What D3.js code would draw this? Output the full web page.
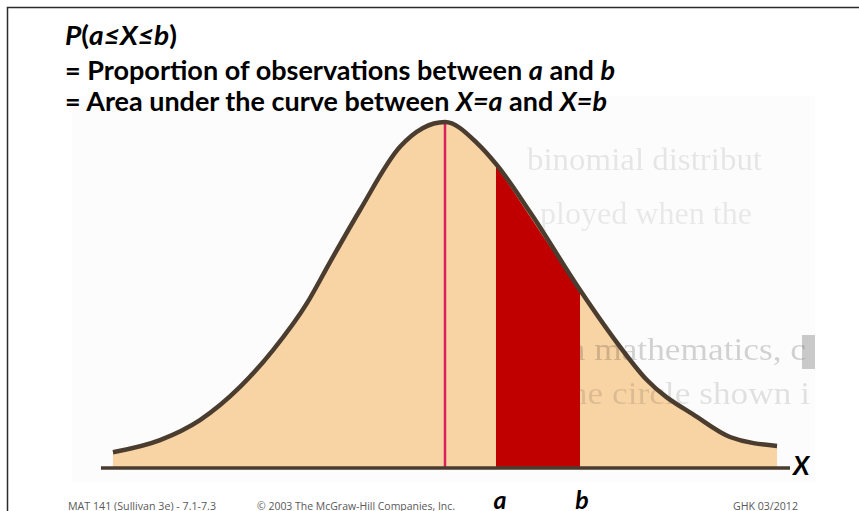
<!DOCTYPE html>
<html>
<head>
<meta charset="utf-8">
<script src="https://cdn.jsdelivr.net/npm/d3@7/dist/d3.min.js"></script>
<style>
  html, body { margin: 0; padding: 0; background: #ffffff; }
  svg { display: block; }
</style>
</head>
<body>
<svg id="chart" width="859" height="511"></svg>
<script>
// Density curve, sampled in standard units (mean = 0) with relative height (peak = 1)
const curveX = [-2.767, -2.375, -2.042, -1.708, -1.433, -1.15, -0.958, -0.708, -0.375, 0,
                0.267, 0.433, 0.708, 1.125, 1.417, 1.683, 2.1, 2.375, 2.767];
const curveY = [0.043, 0.078, 0.136, 0.232, 0.339, 0.475, 0.594, 0.745, 0.928, 1.0,
                0.939, 0.875, 0.739, 0.513, 0.368, 0.252, 0.145, 0.087, 0.061];

// Interval [a, b] and the heights of the shaded region at its edges
const intervalX = [0.425, 1.125];
const intervalTop = [0.875, 0.507];
const intervalLabels = ["a", "b"];
const meanX = 0;
const axisExtent = [-2.867, 2.875];
const axisLabel = "X";

const titleLines = [
  [{t: "P", i: true}, {t: "(", i: false}, {t: "a≤X≤b", i: true}, {t: ")", i: false}],
  [{t: "= Proportion of observations between ", i: false}, {t: "a", i: true}, {t: " and ", i: false}, {t: "b", i: true}],
  [{t: "= Area under the curve between ", i: false}, {t: "X=a", i: true}, {t: " and ", i: false}, {t: "X=b", i: true}]
];
const footerTexts = ["MAT 141 (Sullivan 3e) - 7.1-7.3", "© 2003 The McGraw-Hill Companies, Inc.", "GHK 03/2012"];
const pageTexts = ["binomial distribut", "ployed when the", "In mathematics, c", "the circle shown i"];

const svg = d3.select("#chart");

const x = d3.scaleLinear().domain([-3, 3]).range([85, 805]);
const y = d3.scaleLinear().domain([0, 1]).range([467, 122]);

// slide frame
svg.append("path")
  .attr("d", "M7.5,511 L7.5,7.5 L859,7.5")
  .attr("fill", "none").attr("stroke", "#2b2b2b").attr("stroke-width", 1.5);

// scanned page behind the figure
svg.append("rect").attr("x", 72).attr("y", 96).attr("width", 743).attr("height", 386)
  .attr("fill", "#fcfcfc");

const pts = curveX.map((v, k) => [v, curveY[k]]);

// area under the curve
const area = d3.area()
  .x(d => x(d[0])).y0(y(0)).y1(d => y(d[1]))
  .curve(d3.curveMonotoneX);
svg.append("path").datum(pts).attr("d", area).attr("fill", "#f8d3a4");

// faint print showing through from the page's other side
const pageFont = "'Liberation Serif', 'DejaVu Serif', serif";
const pageRows = [
  {x: 527, y: 170, size: 32, w: 235, op: 0.09},
  {x: 540, y: 224, size: 31, w: 212, op: 0.08},
  {x: 556, y: 360, size: 31, w: 250, op: 0.17},
  {x: 560, y: 404, size: 31, w: 250, op: 0.11}
];
const ghost = svg.append("g").style("filter", "blur(0.6px)");
pageRows.forEach((r, k) => {
  ghost.append("text").attr("x", r.x).attr("y", r.y)
    .attr("font-family", pageFont).attr("font-size", r.size)
    .attr("textLength", r.w).attr("lengthAdjust", "spacingAndGlyphs")
    .attr("fill", "#000").attr("fill-opacity", r.op).text(pageTexts[k]);
});
ghost.append("rect").attr("x", 802).attr("y", 335).attr("width", 13).attr("height", 34)
  .attr("fill", "#000").attr("fill-opacity", 0.2);

// shaded interval between a and b
const region = [
  [intervalX[0], 0], [intervalX[0], intervalTop[0]],
  [intervalX[1], intervalTop[1]], [intervalX[1], 0]
];
svg.append("path")
  .attr("d", d3.line().x(d => x(d[0])).y(d => y(d[1]))(region) + "Z")
  .attr("fill", "#c00000");

// mean line
svg.append("line")
  .attr("x1", x(meanX)).attr("x2", x(meanX))
  .attr("y1", y(0)).attr("y2", y(1) - 2)
  .attr("stroke", "#d9215c").attr("stroke-width", 2.5);

// horizontal axis
svg.append("line")
  .attr("x1", x(axisExtent[0])).attr("x2", x(axisExtent[1]))
  .attr("y1", y(0) + 1).attr("y2", y(0) + 1)
  .attr("stroke", "#4a3c2e").attr("stroke-width", 3.5);

// density curve
const line = d3.line().x(d => x(d[0])).y(d => y(d[1])).curve(d3.curveMonotoneX);
svg.append("path").datum(pts).attr("d", line)
  .attr("fill", "none").attr("stroke", "#4a3c2e").attr("stroke-width", 4.5)
  .attr("stroke-linecap", "butt");

const boldFont = "Lato, 'Open Sans', 'DejaVu Sans', sans-serif";

// axis label and interval labels
svg.append("text").attr("x", x(2.9)).attr("y", 475)
  .attr("font-family", boldFont).attr("font-weight", 700).attr("font-style", "italic")
  .attr("font-size", 26).attr("fill", "#000").text(axisLabel);
intervalLabels.forEach((lab, k) => {
  svg.append("text").attr("x", x(intervalX[k]) + (k === 0 ? 4 : 2)).attr("y", 509)
    .attr("text-anchor", "middle")
    .attr("font-family", boldFont).attr("font-weight", 700).attr("font-style", "italic")
    .attr("font-size", 25).attr("fill", "#000").text(lab);
});

// title block
const titleY = [45, 80, 111];
const titleW = [112, 550, 542];
titleLines.forEach((parts, k) => {
  const t = svg.append("text").attr("x", 65).attr("y", titleY[k])
    .attr("font-family", boldFont).attr("font-weight", 700)
    .attr("font-size", 26).attr("fill", "#000")
    .attr("textLength", titleW[k]).attr("lengthAdjust", "spacingAndGlyphs");
  parts.forEach(p => {
    t.append("tspan").attr("font-style", p.i ? "italic" : "normal").text(p.t);
  });
});

// footer
const footerX = [68, 257, 733];
const footerW = [148, 198, 65];
footerTexts.forEach((s, k) => {
  svg.append("text").attr("x", footerX[k]).attr("y", 509.5)
    .attr("font-family", "'Open Sans', 'DejaVu Sans', sans-serif")
    .attr("font-size", 11).attr("fill", "#595959")
    .attr("textLength", footerW[k]).attr("lengthAdjust", "spacingAndGlyphs")
    .text(s);
});
</script>
</body>
</html>
